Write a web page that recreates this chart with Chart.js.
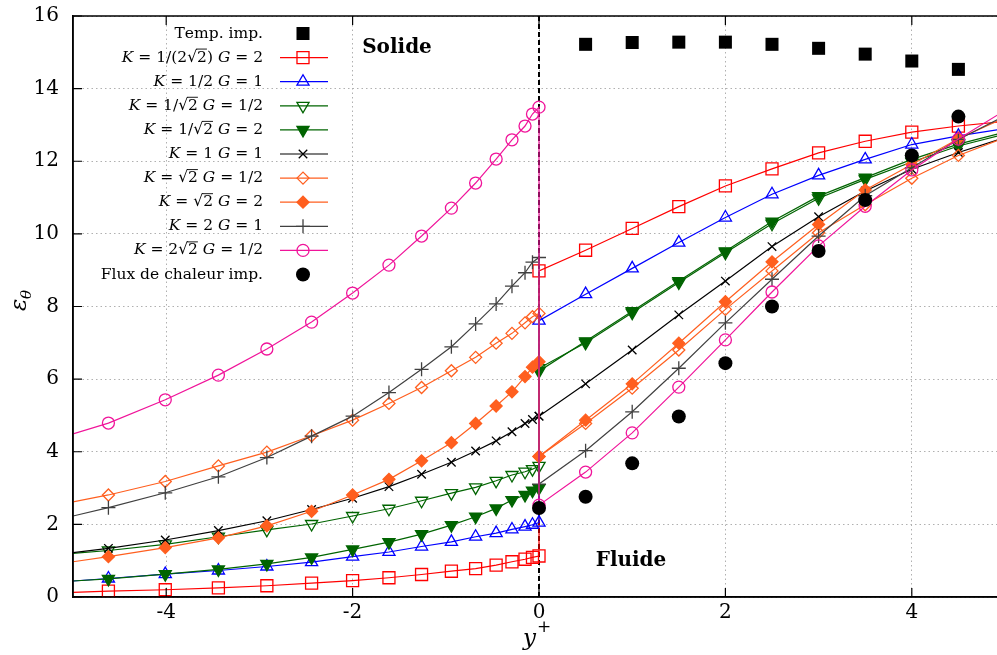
<!DOCTYPE html>
<html>
<head>
<meta charset="utf-8">
<script src="https://cdn.jsdelivr.net/npm/chart.js@4/dist/chart.umd.min.js"></script>
<style>
  html, body { margin: 0; padding: 0; background: #fff; overflow: hidden; }
  #wrap { width: 1020px; height: 655px; }
</style>
</head>
<body>
<div id="wrap"><canvas id="chart" width="1020" height="655"></canvas></div>
<script>
// abscissae: solid side (non uniform mesh) and fluid side
const xSolid = [-5, -4.62, -4.01, -3.44, -2.92, -2.44, -2.0, -1.61, -1.26, -0.94, -0.68, -0.46, -0.29, -0.15, -0.07, 0];
const xFluid = [0, 0.5, 1, 1.5, 2, 2.5, 3, 3.5, 4, 4.5, 5];

const xTemp = [0.5, 1, 1.5, 2, 2.5, 3, 3.5, 4, 4.5, 5];
const yTemp = [15.22, 15.27, 15.28, 15.28, 15.22, 15.11, 14.95, 14.76, 14.53, 14.26];

const xFlux = [0, 0.5, 1, 1.5, 2, 2.5, 3, 3.5, 4, 4.5];
const yFlux = [2.45, 2.76, 3.68, 4.97, 6.44, 8.0, 9.53, 10.93, 12.16, 13.23];

// epsilon_theta, solid part then fluid part
const k1s = [0.13, 0.16, 0.20, 0.25, 0.31, 0.38, 0.45, 0.53, 0.62, 0.71, 0.78, 0.88, 0.97, 1.04, 1.09, 1.13];
const k1f = [8.98, 9.55, 10.15, 10.75, 11.32, 11.79, 12.23, 12.55, 12.80, 12.97, 13.1];
const k2s = [0.44, 0.51, 0.63, 0.73, 0.84, 0.96, 1.11, 1.24, 1.39, 1.52, 1.66, 1.76, 1.86, 1.94, 1.99, 2.05];
const k2f = [7.61, 8.34, 9.05, 9.76, 10.45, 11.09, 11.61, 12.05, 12.46, 12.70, 12.9];
const k3s = [1.20, 1.28, 1.45, 1.66, 1.85, 2.01, 2.23, 2.43, 2.65, 2.86, 3.02, 3.20, 3.36, 3.45, 3.52, 3.61];
const k3f = [6.3, 7.0, 7.83, 8.66, 9.48, 10.28, 10.98, 11.50, 11.98, 12.42, 12.75];
const k4s = [0.44, 0.50, 0.63, 0.76, 0.91, 1.09, 1.31, 1.51, 1.73, 1.98, 2.21, 2.44, 2.67, 2.81, 2.93, 3.0];
const k4f = [6.22, 7.04, 7.87, 8.70, 9.52, 10.34, 11.04, 11.55, 12.05, 12.47, 12.8];
const k5s = [1.22, 1.34, 1.57, 1.83, 2.10, 2.41, 2.72, 3.04, 3.38, 3.71, 4.02, 4.30, 4.55, 4.78, 4.89, 4.98];
const k5f = [4.98, 5.87, 6.80, 7.77, 8.70, 9.65, 10.47, 11.18, 11.78, 12.24, 12.65];
const k6s = [2.62, 2.81, 3.18, 3.61, 3.99, 4.44, 4.87, 5.33, 5.77, 6.23, 6.60, 6.99, 7.26, 7.55, 7.72, 7.81];
const k6f = [3.87, 4.78, 5.75, 6.80, 7.92, 8.98, 10.03, 10.80, 11.53, 12.16, 12.65];
const k7s = [0.97, 1.11, 1.36, 1.63, 1.96, 2.36, 2.81, 3.24, 3.75, 4.25, 4.78, 5.26, 5.65, 6.07, 6.33, 6.48];
const k7f = [3.87, 4.87, 5.87, 6.99, 8.13, 9.23, 10.26, 11.21, 11.91, 12.62, 13.2];
const k8s = [2.23, 2.46, 2.87, 3.31, 3.84, 4.43, 4.98, 5.63, 6.27, 6.89, 7.52, 8.07, 8.56, 8.93, 9.22, 9.35];
const k8f = [3.11, 4.03, 5.10, 6.30, 7.55, 8.75, 9.94, 11.05, 11.82, 12.6, 13.25];
const k9s = [4.49, 4.79, 5.43, 6.11, 6.83, 7.57, 8.37, 9.14, 9.94, 10.71, 11.40, 12.06, 12.59, 12.97, 13.30, 13.49];
const k9f = [2.53, 3.44, 4.52, 5.78, 7.08, 8.40, 9.67, 10.76, 11.76, 12.61, 13.4];

const labels = [
  "Temp. imp.",
  "K = 1/(2√2) G = 2",
  "K = 1/2 G = 1",
  "K = 1/√2 G = 1/2",
  "K = 1/√2 G = 2",
  "K = 1 G = 1",
  "K = √2 G = 1/2",
  "K = √2 G = 2",
  "K = 2 G = 1",
  "K = 2√2 G = 1/2",
  "Flux de chaleur imp."
];

const xTicks = [-4, -2, 0, 2, 4];
const serif = '"DejaVu Serif", "Liberation Serif", serif';

function pts(xs, ys) {
  return xs.map((x, i) => ({ x: x, y: ys[i] }));
}

function curve(label, sol, flu, color, style, opts) {
  const data = pts(xSolid, sol).concat(pts(xFluid, flu));
  const r = opts.r;
  return {
    label: label,
    data: data,
    showLine: true,
    borderColor: color,
    backgroundColor: opts.filled ? color : 'rgba(0,0,0,0)',
    borderWidth: 1.2,
    pointStyle: style,
    pointRadius: data.map((p, i) => i === 0 ? 0 : r),
    pointBorderColor: color,
    pointBackgroundColor: opts.filled ? color : 'rgba(0,0,0,0)',
    pointBorderWidth: 1.3,
    pointRotation: opts.rot || 0,
    tension: 0
  };
}

const datasets = [
  {
    label: labels[0], data: pts(xTemp, yTemp), showLine: false,
    pointStyle: 'rect', pointRadius: 9.2, pointBackgroundColor: '#000', pointBorderColor: '#000',
    pointBorderWidth: 0, borderColor: '#000', backgroundColor: '#000'
  },
  curve(labels[1], k1s, k1f, '#ff0000', 'rect', { r: 8.5 }),
  curve(labels[2], k2s, k2f, '#0000ff', 'triangle', { r: 7 }),
  curve(labels[3], k3s, k3f, '#006400', 'triangle', { r: 7, rot: 180 }),
  curve(labels[4], k4s, k4f, '#006400', 'triangle', { r: 7, rot: 180, filled: true }),
  curve(labels[5], k5s, k5f, '#000000', 'crossRot', { r: 6 }),
  curve(labels[6], k6s, k6f, '#ff5f1f', 'rectRot', { r: 6 }),
  curve(labels[7], k7s, k7f, '#ff5f1f', 'rectRot', { r: 6, filled: true }),
  curve(labels[8], k8s, k8f, '#404040', 'cross', { r: 7 }),
  curve(labels[9], k9s, k9f, '#f0149a', 'circle', { r: 6 }),
  {
    label: labels[10], data: pts(xFlux, yFlux), showLine: false,
    pointStyle: 'circle', pointRadius: 7, pointBackgroundColor: '#000', pointBorderColor: '#000',
    pointBorderWidth: 0, borderColor: '#000', backgroundColor: '#000'
  }
];
// later series drawn on top, like gnuplot
datasets.forEach((d, i) => { d.order = 20 - i; });

// text with italic K, G and an overline after the root sign
function drawRich(ctx, str, xRight, y, size) {
  const parts = [];
  for (let i = 0; i < str.length; i++) {
    const ch = str[i];
    parts.push({ ch: ch, it: ch === 'K' || ch === 'G', ov: i > 0 && str[i - 1] === '√' });
  }
  const fontOf = p => (p.it ? 'italic ' : '') + size + 'px ' + serif;
  let total = 0;
  parts.forEach(p => { ctx.font = fontOf(p); p.w = ctx.measureText(p.ch).width; total += p.w; });
  let x = xRight - total;
  ctx.textAlign = 'left';
  ctx.textBaseline = 'middle';
  parts.forEach(p => {
    ctx.font = fontOf(p);
    ctx.fillText(p.ch, x, y);
    if (p.ov) {
      ctx.beginPath();
      ctx.lineWidth = 0.9;
      ctx.moveTo(x - 1, y - size * 0.55);
      ctx.lineTo(x + p.w, y - size * 0.55);
      ctx.stroke();
    }
    x += p.w;
  });
}

const decor = {
  id: 'decor',
  beforeDatasetsDraw(chart) {
    const ctx = chart.ctx;
    const a = chart.chartArea;
    const x0 = chart.scales.x.getPixelForValue(0);
    // dashed interface line at y+ = 0
    ctx.save();
    ctx.strokeStyle = '#000';
    ctx.lineWidth = 2;
    ctx.setLineDash([5, 3]);
    ctx.beginPath();
    ctx.moveTo(x0, a.top);
    ctx.lineTo(x0, a.bottom);
    ctx.stroke();
    ctx.restore();
  },
  afterDraw(chart) {
    const ctx = chart.ctx;
    const a = chart.chartArea;
    const xs = chart.scales.x, ys = chart.scales.y;
    ctx.save();
    // frame
    ctx.strokeStyle = '#000';
    ctx.lineWidth = 1.5;
    ctx.strokeRect(a.left, a.top, a.right - a.left, a.bottom - a.top);
    // inward ticks
    ctx.lineWidth = 1.2;
    ctx.beginPath();
    ys.ticks.forEach(t => {
      const py = ys.getPixelForValue(t.value);
      ctx.moveTo(a.left, py); ctx.lineTo(a.left + 9, py);
    });
    xs.ticks.forEach(t => {
      const px = xs.getPixelForValue(t.value);
      ctx.moveTo(px, a.bottom); ctx.lineTo(px, a.bottom - 9);
      ctx.moveTo(px, a.top); ctx.lineTo(px, a.top + 9);
    });
    ctx.stroke();

    // legend
    const H = Chart.helpers;
    chart.data.datasets.forEach((ds, i) => {
      const y = 33.5 + i * 24.1;
      ctx.fillStyle = '#000';
      ctx.strokeStyle = '#000';
      drawRich(ctx, ds.label, 263, y, 15.5);
      if (ds.showLine) {
        ctx.strokeStyle = ds.borderColor;
        ctx.lineWidth = 1.2;
        ctx.beginPath();
        ctx.moveTo(280, y); ctx.lineTo(328, y);
        ctx.stroke();
      }
      ctx.strokeStyle = ds.pointBorderColor;
      ctx.fillStyle = ds.pointBackgroundColor;
      ctx.lineWidth = ds.pointBorderWidth || 0.01;
      const r = Array.isArray(ds.pointRadius) ? ds.pointRadius[1] : ds.pointRadius;
      H.drawPoint(ctx, {
        pointStyle: ds.pointStyle, radius: r, rotation: ds.pointRotation || 0,
        borderWidth: ds.pointBorderWidth || 0
      }, 303, y);
    });

    // zone labels
    ctx.fillStyle = '#000';
    ctx.font = 'bold 20px ' + serif;
    ctx.textAlign = 'center';
    ctx.textBaseline = 'middle';
    ctx.fillText('Solide', 397, 48);
    ctx.fillText('Fluide', 631, 561);

    // axis titles
    ctx.font = 'italic 23px ' + serif;
    ctx.textAlign = 'left';
    ctx.textBaseline = 'alphabetic';
    ctx.fillText('y', 523, 645);
    ctx.font = '17px ' + serif;
    ctx.fillText('+', 537, 632);

    ctx.translate(26, 300);
    ctx.rotate(-Math.PI / 2);
    ctx.font = 'italic 23px ' + serif;
    ctx.textAlign = 'left';
    ctx.fillText('ε', -11, 0);
    ctx.font = 'italic 15px ' + serif;
    ctx.fillText('θ', 1, 5);
    ctx.restore();
  }
};

new Chart(document.getElementById('chart').getContext('2d'), {
  type: 'scatter',
  data: { datasets: datasets },
  options: {
    responsive: false,
    animation: false,
    events: [],
    layout: { padding: { left: 0, top: 16, right: 15, bottom: 0 } },
    plugins: { legend: { display: false }, tooltip: { enabled: false } },
    scales: {
      x: {
        type: 'linear', min: -5, max: 5,
        afterFit(scale) { scale.height = 58; scale.paddingLeft = 0; scale.paddingRight = 0; },
        afterBuildTicks(scale) { scale.ticks = xTicks.map(v => ({ value: v })); },
        grid: { color: '#b0b0b0', lineWidth: 1, drawTicks: false },
        border: { display: true, color: '#000', width: 1.5, dash: [1.5, 3] },
        ticks: { color: '#000', padding: 4, font: { family: serif, size: 20 } }
      },
      y: {
        type: 'linear', min: 0, max: 16,
        afterFit(scale) { scale.width = 73; scale.paddingTop = 0; scale.paddingBottom = 0; },
        grid: { color: '#b0b0b0', lineWidth: 1, drawTicks: false },
        border: { display: true, color: '#000', width: 1.5, dash: [1.5, 3] },
        ticks: { color: '#000', stepSize: 2, padding: 14, font: { family: serif, size: 20 } }
      }
    }
  },
  plugins: [decor]
});
</script>
</body>
</html>
